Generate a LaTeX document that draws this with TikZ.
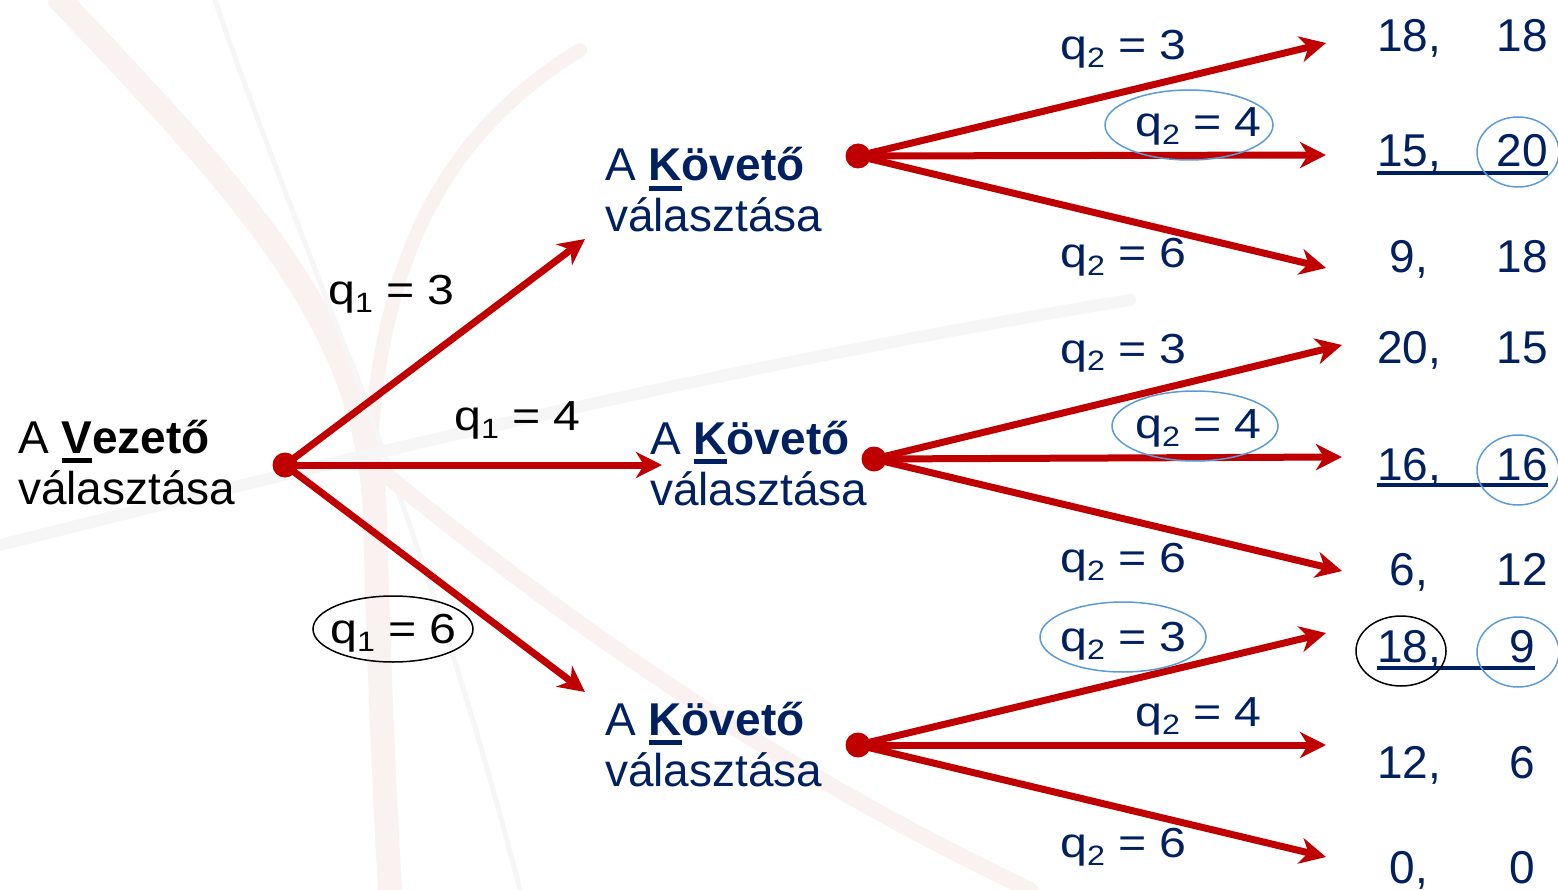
\documentclass[tikz,border=0pt]{standalone}
\usepackage{fontspec}
\setmainfont{Liberation Sans}
\newfontfamily\qfont{Liberation Sans}[FakeStretch=1.15]
\usetikzlibrary{arrows.meta}

\definecolor{navy}{HTML}{002060}
\definecolor{arrowred}{HTML}{C00000}
\definecolor{ringblue}{HTML}{5B9BD5}
\definecolor{swpink}{HTML}{FAF1F1}
\definecolor{swgray}{HTML}{F6F6F6}

% q with a lowered index: \qlab{index}{value}
\newcommand{\qlab}[2]{{\qfont q\raisebox{-8pt}{\fontsize{28}{28}\selectfont #1} = #2}}
% heavy underline under the initial letter of a player's name
\newcommand{\keyletter}[1]{\leavevmode\setbox0\hbox{#1}\rlap{\rule[-10pt]{\wd0}{5pt}}\box0}

\tikzset{
  edge/.style={line width=7pt, draw=arrowred, -{Stealth[length=26pt,width=26pt,inset=8pt]}},
  dot/.style={circle, fill=arrowred, inner sep=0pt, minimum size=25pt},
  player/.style={font=\fontsize{46}{51}\selectfont, align=left, inner sep=0pt, anchor=base west},
  qlabel/.style={font=\fontsize{42}{42}\selectfont, text=navy, inner sep=0pt, anchor=base west},
  payoff/.style={font=\fontsize{46}{46}\selectfont, text=navy, inner sep=0pt, anchor=base},
  ring/.style={draw=ringblue, line width=1.5pt},
  blackring/.style={draw=black, line width=1.5pt},
  payline/.style={draw=navy, line width=3.5pt},
}

\begin{document}
\begin{tikzpicture}[x=1pt,y=-1pt]
\useasboundingbox (0,0) rectangle (1558,890);

% faint swoosh watermark in the background
\begin{scope}[line cap=round]
  \draw[swpink, line width=24pt] (60,0) .. controls (250,200) and (370,330) .. (375,520) .. controls (380,700) and (385,800) .. (390,890);
  \draw[swpink, line width=14pt] (580,50) .. controls (450,130) and (380,250) .. (370,460);
  \draw[swgray, line width=5pt] (215,0) .. controls (300,250) and (420,500) .. (520,890);
  \draw[swgray, line width=12pt] (0,545) .. controls (300,470) and (700,370) .. (1130,300);
  \draw[swpink, line width=16pt] (380,470) .. controls (600,650) and (800,780) .. (1030,890);
\end{scope}

% decision points
\node[dot] (root) at (285,465) {};
\node[dot] (fa) at (858,156) {};
\node[dot] (fb) at (874,459) {};
\node[dot] (fc) at (858,745) {};

% player labels (anchored at the baseline of the second line)
\node[player, text=black] (lead) at (18,504) {A \textbf{\keyletter{V}ezető}\\választása};
\node[player, text=navy] (foa) at (605,232) {A \textbf{\keyletter{K}övető}\\választása};
\node[player, text=navy] (fob) at (650,505) {A \textbf{\keyletter{K}övető}\\választása};
\node[player, text=navy] (foc) at (605,786) {A \textbf{\keyletter{K}övető}\\választása};

% arrow ends
\coordinate (ra) at (585,239);
\coordinate (rb) at (662,465);
\coordinate (rc) at (585,692);
\coordinate (ea1) at (1326,43);
\coordinate (ea2) at (1326,155);
\coordinate (ea3) at (1326,268);
\coordinate (eb1) at (1342,345);
\coordinate (eb2) at (1342,457);
\coordinate (eb3) at (1342,571);
\coordinate (ec1) at (1326,633);
\coordinate (ec2) at (1326,745);
\coordinate (ec3) at (1326,857);

% leader's moves
\draw[edge] (root.center) -- (ra);
\draw[edge] (root.center) -- (rb);
\draw[edge] (root.center) -- (rc);
% follower's moves
\foreach \f/\e in {fa/ea1,fa/ea2,fa/ea3,fb/eb1,fb/eb2,fb/eb3,fc/ec1,fc/ec2,fc/ec3}
  \draw[edge] (\f.center) -- (\e);

% leader's quantities
\node[qlabel, text=black] (l1) at (328,305) {\qlab{1}{3}};
\node[qlabel, text=black] (l2) at (454,430) {\qlab{1}{4}};
\node[qlabel, text=black] (l3) at (330,643) {\qlab{1}{6}};
\draw[blackring] (393,629) ellipse [x radius=80, y radius=33];

% follower's quantities
\node[qlabel] (a1) at (1060,60) {\qlab{2}{3}};
\node[qlabel] (a2) at (1135,137) {\qlab{2}{4}};
\node[qlabel] (a3) at (1060,268) {\qlab{2}{6}};
\node[qlabel] (b1) at (1060,363) {\qlab{2}{3}};
\node[qlabel] (b2) at (1135,438) {\qlab{2}{4}};
\node[qlabel] (b3) at (1060,572) {\qlab{2}{6}};
\node[qlabel] (c1) at (1060,651) {\qlab{2}{3}};
\node[qlabel] (c2) at (1135,726) {\qlab{2}{4}};
\node[qlabel] (c3) at (1060,857) {\qlab{2}{6}};
\draw[ring] (1189,125) ellipse [x radius=84, y radius=35];
\draw[ring] (1195,426) ellipse [x radius=83, y radius=35];
\draw[ring] (1123,637) ellipse [x radius=83, y radius=35];

% payoffs
\foreach \r/\y/\u/\v in {1/52/18/18, 2/167/15/20, 3/273/9/18, 4/363/20/15, 5/480/16/16,
                        6/585/6/12, 7/662/18/9, 8/778/12/6, 9/883/0/0} {
  \node[payoff] (p\r a) at (1409,\y) {\u,};
  \node[payoff] (p\r b) at (1522,\y) {\v};
}
\draw[payline] ([yshift=-6pt]p2a.base west) -- ([yshift=-6pt]p2b.base east);
\draw[payline] ([yshift=-5pt]p5a.base west) -- ([yshift=-5pt]p5b.base east);
\draw[payline] ([yshift=-6pt]p7a.base west) -- ([yshift=-6pt]p7b.base east);
\draw[ring] (1518,152) ellipse [x radius=41, y radius=35];
\draw[ring] (1518,470) ellipse [x radius=41, y radius=35];
\draw[ring] (1518,652) ellipse [x radius=41, y radius=35];
\draw[blackring] (1401,651) ellipse [x radius=45, y radius=35];
\end{tikzpicture}
\end{document}
